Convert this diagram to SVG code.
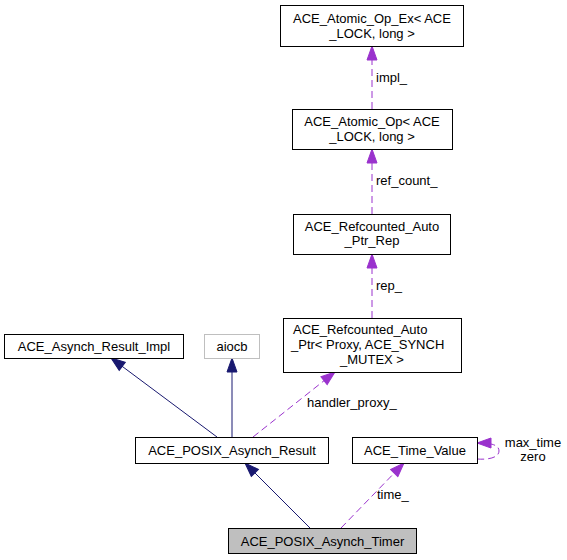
<svg xmlns="http://www.w3.org/2000/svg" width="567" height="560" viewBox="0 0 567 560">
<style>
text{font-family:"Liberation Sans",Arial,Helvetica,sans-serif;font-size:13px;fill:#000}
.c{text-anchor:middle}
.box{fill:#fff;stroke:#000;stroke-width:1}
.inh{fill:none;stroke:#191970;stroke-width:1}
.use{fill:none;stroke:#9a32cd;stroke-width:1;stroke-dasharray:7,4}
</style>
<defs>
<marker id="ab" markerUnits="userSpaceOnUse" markerWidth="16" markerHeight="12" viewBox="0 0 16 12" refX="15" refY="6" orient="auto"><path d="M1,1 L15,6 L1,11 Z" fill="#191970" stroke="#191970"/></marker>
<marker id="ap" markerUnits="userSpaceOnUse" markerWidth="16" markerHeight="12" viewBox="0 0 16 12" refX="15" refY="6" orient="auto"><path d="M1,1 L15,6 L1,11 Z" fill="#9a32cd" stroke="#9a32cd"/></marker>
</defs>
<rect width="567" height="560" fill="#fff"/>
<g id="connectors">
<path class="use" d="M372,109 L372,46" marker-end="url(#ap)"/>
<text x="376" y="82">impl_</text>
<path class="use" d="M372,214 L372,149" marker-end="url(#ap)"/>
<text x="376" y="185">ref_count_</text>
<path class="use" d="M372,318 L372,254" marker-end="url(#ap)"/>
<text x="376" y="290">rep_</text>
<path class="use" d="M253,437 L335,372" marker-end="url(#ap)"/>
<text x="307" y="407">handler_proxy_</text>
<path class="inh" d="M217,437 L111,358" marker-end="url(#ab)"/>
<path class="inh" d="M232,437 L232,358" marker-end="url(#ab)"/>
<path class="inh" d="M310,528 L245,463" marker-end="url(#ab)"/>
<path class="use" d="M341,528 L404,463" marker-end="url(#ap)"/>
<text x="377" y="499">time_</text>
<path class="use" d="M477,459 C490,460 499,457 499,451 C499,445 492,443 477,443" marker-end="url(#ap)"/>
<text class="c" x="533" y="447">max_time</text>
<text class="c" x="533" y="461">zero</text>
</g>
<g id="node-atomic-op-ex">
<rect class="box" x="280.5" y="5.5" width="183" height="41"/>
<text class="c" x="372" y="22.5">ACE_Atomic_Op_Ex&lt; ACE</text>
<text class="c" x="372" y="37.5">_LOCK, long &gt;</text>
</g>
<g id="node-atomic-op">
<rect class="box" x="292.5" y="109.5" width="160" height="40"/>
<text class="c" x="372" y="125.5">ACE_Atomic_Op&lt; ACE</text>
<text class="c" x="372" y="140.5">_LOCK, long &gt;</text>
</g>
<g id="node-refcounted-rep">
<rect class="box" x="293.5" y="214.5" width="157" height="40"/>
<text class="c" x="372" y="230.5">ACE_Refcounted_Auto</text>
<text class="c" x="372" y="245">_Ptr_Rep</text>
</g>
<g id="node-refcounted-ptr">
<rect class="box" x="283.5" y="318.5" width="178" height="54"/>
<text x="293" y="334">ACE_Refcounted_Auto</text>
<text x="291" y="349">_Ptr&lt; Proxy, ACE_SYNCH</text>
<text class="c" x="372" y="364">_MUTEX &gt;</text>
</g>
<g id="node-asynch-result-impl">
<rect class="box" x="4.5" y="334.5" width="179" height="24"/>
<text class="c" x="94" y="351">ACE_Asynch_Result_Impl</text>
</g>
<g id="node-aiocb">
<rect x="204.5" y="334.5" width="55" height="24" fill="#fff" stroke="#bfbfbf"/>
<text class="c" x="232" y="351">aiocb</text>
</g>
<g id="node-posix-asynch-result">
<rect class="box" x="135.5" y="437.5" width="193" height="26"/>
<text class="c" x="232" y="455">ACE_POSIX_Asynch_Result</text>
</g>
<g id="node-time-value">
<rect class="box" x="352.5" y="437.5" width="125" height="26"/>
<text class="c" x="415" y="455">ACE_Time_Value</text>
</g>
<g id="node-posix-asynch-timer">
<rect x="228.5" y="528.5" width="188" height="25" fill="#bfbfbf" stroke="#000"/>
<text class="c" x="322.5" y="545.5">ACE_POSIX_Asynch_Timer</text>
</g>
</svg>
